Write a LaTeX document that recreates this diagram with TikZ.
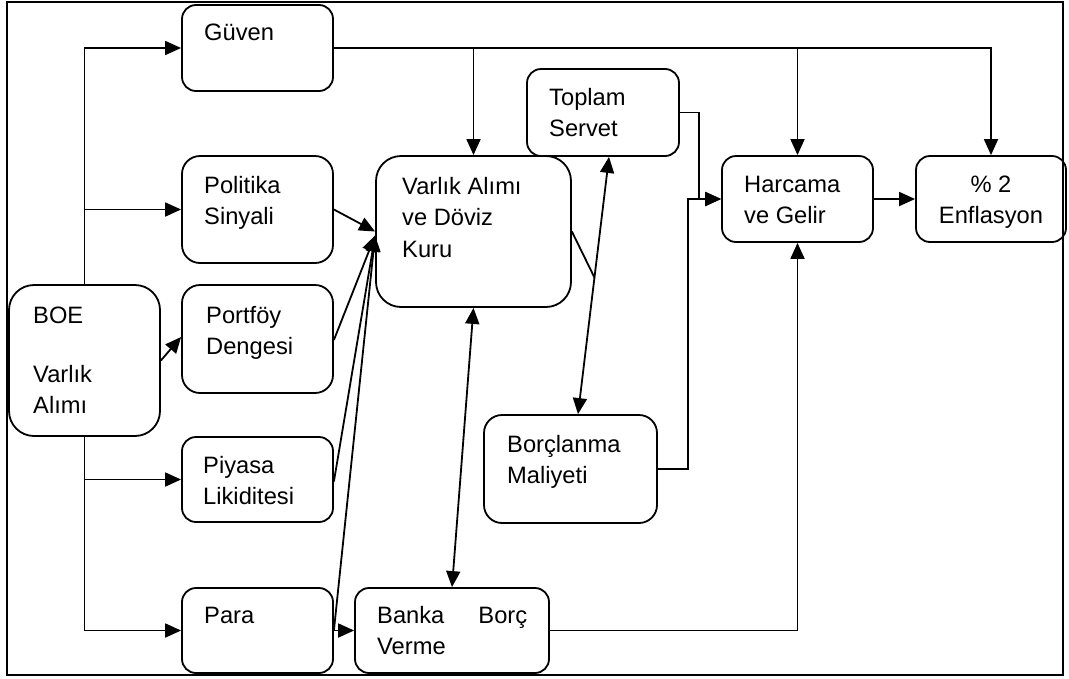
\documentclass[tikz,border=0pt]{standalone}
\usepackage{fontspec}
\setmainfont{Liberation Sans}
\usetikzlibrary{arrows.meta,calc}
\begin{document}
\begin{tikzpicture}[x=1pt,y=-1pt,
  box/.style={draw, line width=1.8pt, rounded corners=#1, inner sep=0pt},
  txt/.style={anchor=base west, inner sep=0pt, font=\fontsize{23.7}{31}\selectfont},
  conn/.style={line width=1.8pt},
  arr/.style={conn, -{Triangle[length=16pt,width=14pt]}},
  darr/.style={conn, {Triangle[length=16pt,width=14pt]}-{Triangle[length=16pt,width=14pt]}}]
\useasboundingbox (0,0) rectangle (1069,678);
\draw[line width=1.8pt] (7,2) rectangle (1063,675);

% boxes
\node[box=25pt, minimum width=151pt, minimum height=151pt] (boe) at (84.5,360.5) {};
\node[box=14pt, minimum width=151pt, minimum height=86pt] (guv) at (257.5,48) {};
\node[box=18pt, minimum width=151pt, minimum height=107pt] (pol) at (257.5,209.5) {};
\node[box=18pt, minimum width=151pt, minimum height=108pt] (por) at (257.5,339) {};
\node[box=14pt, minimum width=151pt, minimum height=85pt] (piy) at (257.5,479.5) {};
\node[box=14pt, minimum width=151pt, minimum height=85pt] (para) at (257.5,630.5) {};
\node[box=14pt, minimum width=194pt, minimum height=85pt] (ban) at (452,630.5) {};
\node[box=25pt, minimum width=195pt, minimum height=151pt] (var) at (473.5,231.5) {};
\node[box=14pt, minimum width=152pt, minimum height=87pt] (top) at (603,112.5) {};
\node[box=18pt, minimum width=173pt, minimum height=108pt] (bor) at (570.5,469) {};
\node[box=14pt, minimum width=151pt, minimum height=86pt] (har) at (797.5,199) {};
\node[box=14pt, minimum width=150pt, minimum height=86pt] (enf) at (991,199) {};

% texts
\node[txt] (tboe) at (33,323) {\parbox[t]{120pt}{BOE\\[28pt]Varlık\\Alımı}};
\node[txt] (tguv) at (204,40) {Güven};
\node[txt] (tpol) at (204,193) {\parbox[t]{125pt}{Politika\\Sinyali}};
\node[txt] (tpor) at (206,323) {\parbox[t]{125pt}{Portföy\\Dengesi}};
\node[txt] (tpiy) at (203,473) {\parbox[t]{125pt}{Piyasa\\Likiditesi}};
\node[txt] (tpara) at (204,623) {Para};
\node[txt] (tban) at (377,623) {\parbox[t]{150pt}{Banka\hfill Borç\\Verme}};
\node[txt, font=\fontsize{23.7}{31.5}\selectfont] (tvar) at (402,194) {\parbox[t]{165pt}{Varlık Alımı\\ve Döviz\\Kuru}};
\node[txt] (ttop) at (549,105) {\parbox[t]{125pt}{Toplam\\Servet}};
\node[txt] (tbor) at (507,452) {\parbox[t]{145pt}{Borçlanma\\Maliyeti}};
\node[txt] (thar) at (744,192) {\parbox[t]{125pt}{Harcama\\ve Gelir}};
\node[txt, anchor=base] (tenf) at (991,192) {\parbox[t]{140pt}{\centering \% 2\\Enflasyon}};

% helper points
\coordinate (vin) at ([yshift=-4pt]var.west);
\coordinate (ts) at ([xshift=6pt]top.south);
\coordinate (bn) at ([xshift=7.5pt]bor.north);
\coordinate (mid) at ($(ts)!0.469!(bn)$);

% connectors
\draw[arr] (boe.north) |- (guv.west);
\draw[arr] (boe.north) |- (pol.west);
\draw[arr] (boe.south) |- (piy.west);
\draw[arr] (boe.south) |- (para.west);
\draw[arr] (boe.east) -- ([yshift=2pt]por.west);

\draw[arr] (guv.east) -| (var.north);
\draw[arr] (guv.east) -| (har.north);
\draw[arr] (guv.east) -| (enf.north);

\draw[arr] (pol.east) -- (var.west);
\draw[arr] ([yshift=-1pt]por.east) -- (vin);
\draw[arr] ([yshift=-2pt]piy.east) -- (vin);
\draw[arr] (para.east) -- (vin);

\draw[arr] (para.east) -- (ban.west);
\draw[darr] (ban.north) -- (var.south);
\draw[arr] (ban.east) -| (har.south);

\draw[darr] (ts) -- (bn);
\draw[conn] (var.east) -- (mid);

\draw[arr] (top.east) -| ([xshift=-22pt]har.west) -- (har.west);
\draw[arr] (bor.east) -| ([xshift=-33pt]har.west) -- (har.west);
\draw[arr] (har.east) -- (enf.west);
\end{tikzpicture}
\end{document}
